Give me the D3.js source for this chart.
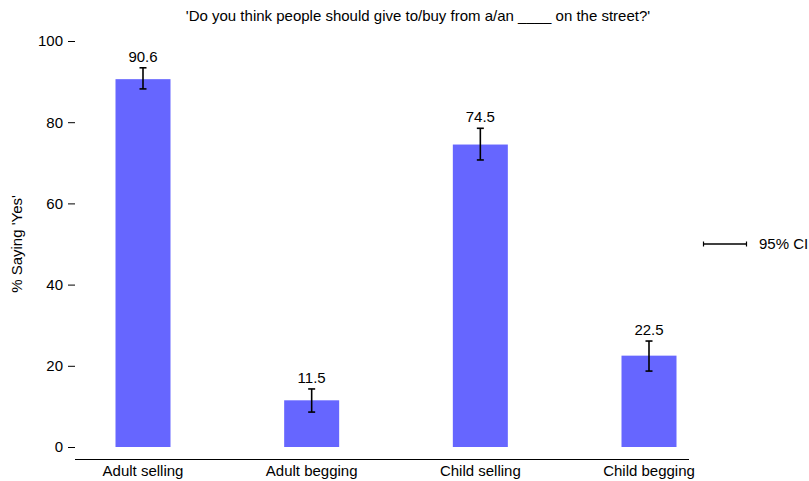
<!DOCTYPE html>
<html><head><meta charset="utf-8">
<script src="https://cdn.jsdelivr.net/npm/d3@7"></script>
<style>body{margin:0;background:#fff}svg{display:block;font-family:"Liberation Sans",Arial,sans-serif}</style>
</head><body><svg id="c" width="809" height="481"></svg>
<script>
const categories = ["Adult selling","Adult begging","Child selling","Child begging"];
const values = [90.6, 11.5, 74.5, 22.5];
const ciLower = [88.2, 8.6, 70.7, 18.7];
const ciUpper = [93.4, 14.3, 78.5, 26.1];
const yTicks = [0,20,40,60,80,100];
const title = "'Do you think people should give to/buy from a/an ____ on the street?'";
const yLabel = "% Saying 'Yes'";
const legendLabel = "95% CI";

const FS = 15;
const svg = d3.select("#c");
const y = d3.scaleLinear().domain([0,100]).range([447,41]);
const x = d3.scalePoint().domain(categories).range([143,649]);
const bw = 55;
const cx = d => x(d);

svg.append("text").attr("x",418).attr("y",21).attr("text-anchor","middle").attr("font-size",FS).text(title);

const yAxis = d3.axisLeft(y).tickValues(yTicks).tickSize(7).tickPadding(5);
const gy = svg.append("g").attr("transform","translate(75,0)").call(yAxis);
gy.select(".domain").remove();
gy.selectAll("text").attr("font-size",FS).attr("font-family","Liberation Sans, Arial, sans-serif").attr("fill","#000");
gy.selectAll("line").attr("stroke","#000");

svg.append("text").attr("transform","translate(22,244) rotate(-90)").attr("text-anchor","middle").attr("font-size",FS).text(yLabel);

svg.append("line").attr("x1",75).attr("x2",689).attr("y1",459.5).attr("y2",459.5).attr("stroke","#000");
svg.selectAll(".xl").data(categories).enter().append("text").attr("x",d=>cx(d)).attr("y",476).attr("text-anchor","middle").attr("font-size",FS).text(d=>d);

svg.selectAll(".bar").data(categories).enter().append("rect")
  .attr("x",d=>cx(d)-bw/2).attr("width",bw)
  .attr("y",(d,i)=>y(values[i])).attr("height",(d,i)=>y(0)-y(values[i]))
  .attr("fill","#6666ff");

const eb = svg.selectAll(".eb").data(categories).enter().append("g");
eb.append("line").attr("x1",d=>cx(d)).attr("x2",d=>cx(d)).attr("y1",(d,i)=>y(ciLower[i])).attr("y2",(d,i)=>y(ciUpper[i])).attr("stroke","#000").attr("stroke-width",1.6);
eb.append("line").attr("x1",d=>cx(d)-3.5).attr("x2",d=>cx(d)+3.5).attr("y1",(d,i)=>y(ciLower[i])).attr("y2",(d,i)=>y(ciLower[i])).attr("stroke","#000").attr("stroke-width",1.6);
eb.append("line").attr("x1",d=>cx(d)-3.5).attr("x2",d=>cx(d)+3.5).attr("y1",(d,i)=>y(ciUpper[i])).attr("y2",(d,i)=>y(ciUpper[i])).attr("stroke","#000").attr("stroke-width",1.6);
eb.append("text").attr("x",d=>cx(d)).attr("y",(d,i)=>y(ciUpper[i])-6).attr("text-anchor","middle").attr("font-size",FS).text((d,i)=>values[i].toFixed(1));

const lg = svg.append("g");
lg.append("line").attr("x1",703).attr("x2",747).attr("y1",244).attr("y2",244).attr("stroke","#000").attr("stroke-width",1.6);
lg.append("line").attr("x1",703.5).attr("x2",703.5).attr("y1",241.5).attr("y2",246.5).attr("stroke","#000").attr("stroke-width",1.2);
lg.append("line").attr("x1",746.5).attr("x2",746.5).attr("y1",241.5).attr("y2",246.5).attr("stroke","#000").attr("stroke-width",1.2);
lg.append("text").attr("x",759).attr("y",249).attr("font-size",FS).text(legendLabel);
</script></body></html>
